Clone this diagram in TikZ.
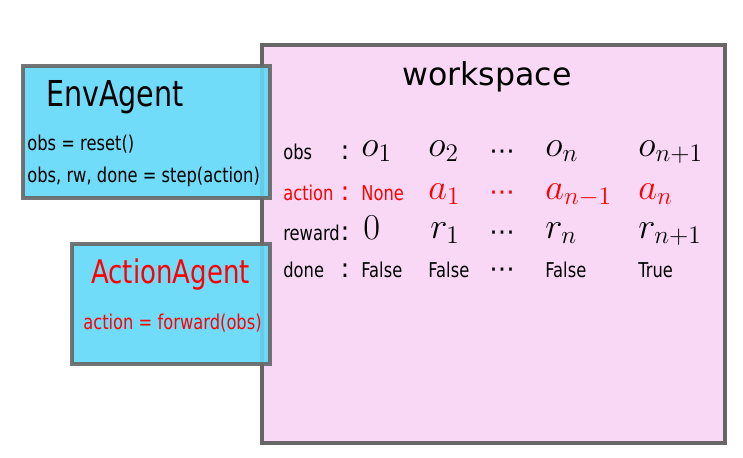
\documentclass[tikz,border=0pt]{standalone}
\usepackage{fontspec}
\setmainfont{DejaVu Sans}
\newfontfamily\narrowfont[FakeStretch=0.8]{DejaVu Sans}
\usepackage{amsmath}
\usepackage{tikz}
\usetikzlibrary{positioning}

\definecolor{wspink}{HTML}{F9D8F6}
\definecolor{agentcyan}{HTML}{62D8F8}
\definecolor{boxgray}{HTML}{666666}

\begin{document}
\begin{tikzpicture}[
    panel/.style={draw=boxgray,line width=2.3pt},
    agent/.style={panel,fill=agentcyan,fill opacity=0.9,draw opacity=0.9},
    title/.style={font=\narrowfont\fontsize{20.3}{24}\selectfont},
    small/.style={inner sep=0pt,anchor=base west,font=\narrowfont\fontsize{11.6}{14}\selectfont},
    mth/.style={inner sep=0pt,anchor=base west,font=\fontsize{19.5}{23}\selectfont},
    sep/.style={inner sep=0pt,anchor=base,font=\fontsize{15}{18}\selectfont}
]
\useasboundingbox (0,0) rectangle (14.86,9.14);

% Workspace
\draw[panel,fill=wspink] (5.24,0.28) rectangle (14.50,8.24);
\node[font=\fontsize{18}{22}\selectfont] (ws) at (9.74,7.60) {workspace};

% Agents (drawn over the workspace border)
\draw[agent] (0.46,5.18) rectangle (5.40,7.82);
\draw[agent] (1.44,1.86) rectangle (5.40,4.26);

\node[title] (env) at (2.30,7.20) {EnvAgent};
\node[small] (reset) at (0.54,6.14) {obs = reset()};
\node[small] (step) at (0.54,5.50) {obs, rw, done = step(action)};

\node[title,red,font=\narrowfont\fontsize{18.5}{22}\selectfont] (act) at (3.41,3.64) {ActionAgent};
\node[small,red] (fwd) at (1.66,2.56) {action = forward(obs)};

% Row labels and separators
\node[small] (lobs) at (5.66,5.96) {obs};
\node[small,red] (lact) at (5.66,5.14) {action};
\node[small] (lrew) at (5.66,4.34) {reward};
\node[small] (ldone) at (5.66,3.60) {done};
\foreach \y/\c in {5.96/black,5.14/red,4.34/black,3.60/black}
    \node[sep,text=\c] at (6.90,\y) {:};

% Observations
\node[mth] (o1) at (7.22,6.02) {$o_1$};
\node[mth] (o2) at (8.56,6.02) {$o_2$};
\node[mth] (on) at (10.90,6.02) {$o_n$};
\node[mth] (onn) at (12.76,6.02) {$o_{n+1}$};

% Actions
\node[small,red] (a0) at (7.22,5.14) {None};
\node[mth,red] (a1) at (8.56,5.16) {$a_1$};
\node[mth,red] (an) at (10.90,5.16) {$a_{n-1}$};
\node[mth,red] (ann) at (12.76,5.16) {$a_n$};

% Rewards
\node[mth] (r0) at (7.26,4.36) {$0$};
\node[mth] (r1) at (8.60,4.38) {$r_1$};
\node[mth] (rn) at (10.90,4.38) {$r_n$};
\node[mth] (rnn) at (12.76,4.38) {$r_{n+1}$};

% Done flags
\node[small] (d0) at (7.22,3.60) {False};
\node[small] (d1) at (8.56,3.60) {False};
\node[small] (dn) at (10.90,3.60) {False};
\node[small] (dnn) at (12.76,3.60) {True};

% Dots column
\foreach \y/\c in {5.96/black,5.14/red,4.34/black,3.60/black}
    \node[inner sep=0pt,anchor=base,font=\fontsize{14.5}{17}\selectfont,text=\c] at (10.04,\y) {⋯};

\end{tikzpicture}
\end{document}
